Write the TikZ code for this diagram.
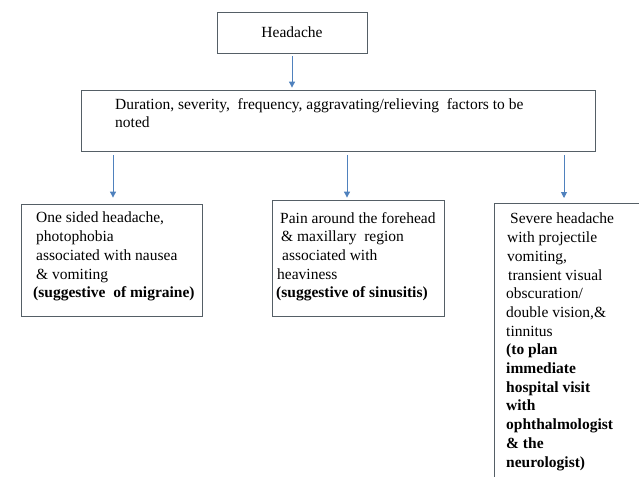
\documentclass[tikz,border=0pt]{standalone}
\usepackage{fontspec}
\setmainfont{Liberation Serif}
\usetikzlibrary{arrows.meta}
\definecolor{arrowc}{HTML}{4F81BD}
\definecolor{boxc}{HTML}{555F66}

\begin{document}
\begin{tikzpicture}[x=1pt,y=-1pt,
  box/.style={draw=boxc,line width=.8pt,inner sep=0pt,font=\fontsize{15.5}{18.7}\selectfont},
  txt/.style={inner sep=0pt,anchor=north west,align=left,font=\fontsize{15.5}{18.7}\selectfont},
  arr/.style={arrowc,line width=.9pt,-{Triangle[width=6pt,length=6pt]},shorten <=3pt,shorten >=2pt}]
\useasboundingbox (0,0) rectangle (639,476);
\clip (0,0) rectangle (639,476);
% boxes
\node[box,minimum width=150pt,minimum height=41pt] (head) at (292,32.5) {Headache};
\node[box,minimum width=514pt,minimum height=61pt] (dur) at (338,120.5) {};
\node[box,minimum width=181pt,minimum height=112pt] (left) at (111.5,260) {};
\node[box,minimum width=172pt,minimum height=116pt] (mid) at (358,258) {};
\node[box,anchor=north west,minimum width=160pt,minimum height=300pt] (right) at (494,203) {};
% texts
\node[txt] (durtxt) at (115,98) {Duration, severity,\ \ frequency, aggravating/relieving\ \ factors to be\\noted};
\node[txt] (lefttxt) at (36,212) {One sided headache,\\photophobia\\associated with nausea\\\&\ vomiting\\\hspace*{-3pt}\textbf{(suggestive\ \ of migraine)}};
\node[txt] (midtxt) at (280,212) {Pain around the forehead\\\hspace*{1pt}\& maxillary\ \ region\\\hspace*{2pt}associated with\\\hspace*{-3pt}heaviness\\\hspace*{-4pt}\textbf{(suggestive of sinusitis)}};
\node[txt] (righttxt) at (506,213) {\hspace*{4pt}Severe headache\\\hspace*{1pt}with projectile\\\hspace*{1pt}vomiting,\\\hspace*{2pt}transient visual\\obscuration/\\double vision,\&\\tinnitus\\\textbf{(to plan}\\\textbf{immediate}\\\textbf{hospital visit}\\\textbf{with}\\\textbf{ophthalmologist}\\\textbf{\& the}\\\textbf{neurologist)}};
% arrows
\coordinate (d1) at (113,151);
\coordinate (d2) at (347,151);
\coordinate (d3) at (564,151);
\draw[arr] (head.south) -- (head.south |- dur.north);
\foreach \c/\b/\s in {d1/left/6,d2/mid/2,d3/right/5}
  \draw[arr,shorten <=4pt,shorten >=\s pt] (\c) -- (\c |- \b.north);
\end{tikzpicture}
\end{document}
